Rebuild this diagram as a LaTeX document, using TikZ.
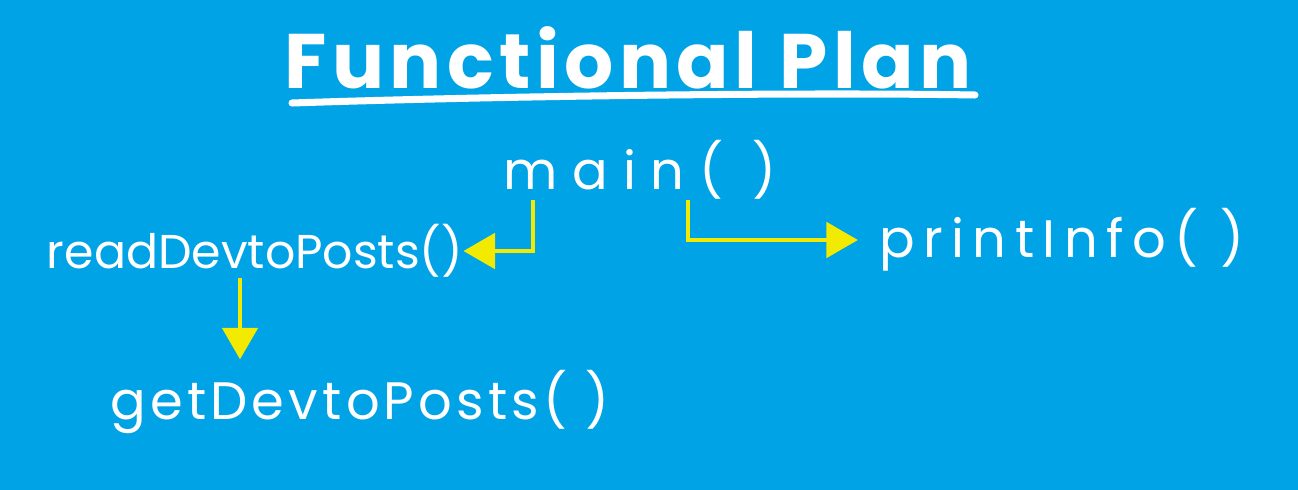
\documentclass[tikz,border=0pt]{standalone}
\usepackage{fontspec}
\setmainfont{Poppins}
\usetikzlibrary{arrows.meta,positioning}
\definecolor{board}{HTML}{00A3E6}
\definecolor{chalkyellow}{HTML}{F2EA00}
\newcommand{\spaced}[1]{\addfontfeatures{LetterSpace=#1}}

\begin{document}
\begin{tikzpicture}[
  x=0.02cm, y=-0.02cm,
  title/.style={text=white, font=\fontsize{44}{50}\selectfont\bfseries\spaced{7}, inner sep=0pt},
  func/.style={text=white, font=\fontsize{30}{34}\selectfont, inner sep=0pt},
  arrow/.style={chalkyellow, line width=2.8pt, -{Triangle[length=18pt,width=20pt]}},
  underline/.style={white, line width=4pt, line cap=round}
]

% board
\fill[board] (0,0) rectangle (1298,490);
\useasboundingbox (0,0) rectangle (1298,490);

\node[title] (heading) at (628,58) {Functional Plan};
\node[func, font=\fontsize{30}{34}\selectfont\spaced{28}] (main) at (640,170) {main( )};
\node[func, font=\fontsize{27}{31}\selectfont] (read) at (255,251) {readDevtoPosts()};
\node[func, font=\fontsize{30}{34}\selectfont\spaced{16}] (print) at (1062,240) {printInfo( )};
\node[func, font=\fontsize{30}{34}\selectfont\spaced{8}] (get) at (360,402) {getDevtoPosts( )};

% underline of the heading
\draw[underline] (292,103) .. controls (500,96) and (800,92) .. (975,95);

% calls
\draw[arrow] (main.south -| 533,0) |- (read.east);
\draw[arrow] (main.south -| 688,0) |- ([xshift=-12pt]print.west);
\draw[arrow] (read.south -| 240,0) -- ([yshift=6pt]get.north -| 240,0);

\end{tikzpicture}
\end{document}
